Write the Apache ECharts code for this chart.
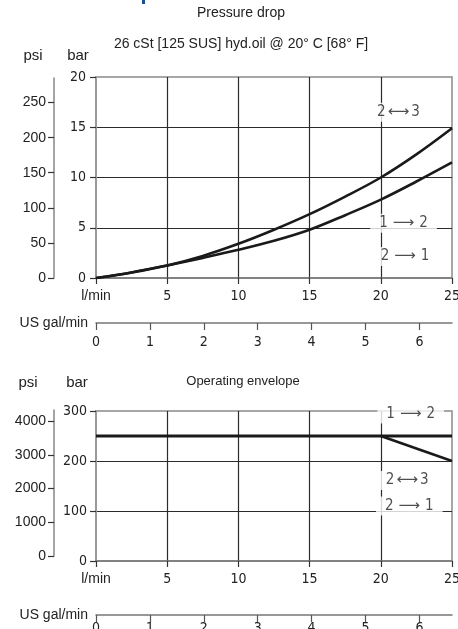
<!DOCTYPE html>
<html>
<head>
<meta charset="utf-8">
<script src="https://cdn.jsdelivr.net/npm/echarts@6/dist/echarts.min.js"></script>
<style>
html,body{margin:0;padding:0;background:#fff;}
#chart{width:458px;height:629px;}
</style>
</head>
<body>
<div id="chart"></div>
<script>
// ---- data ----
const flowLpm = [0, 2.5, 5, 7.5, 10, 12.5, 15, 17.5, 20, 22.5, 25];
const dp23 = [0, 0.55, 1.25, 2.2, 3.4, 4.8, 6.35, 8.1, 10.0, 12.3, 14.9];
const dp12 = [0, 0.55, 1.25, 2.0, 2.8, 3.7, 4.8, 6.25, 7.8, 9.6, 11.5];

const envFlowMain = [0, 25];
const envPressMain = [250, 250];
const envFlowRed = [20, 25];
const envPressRed = [250, 200];

const flowTicks = [0, 5, 10, 15, 20, 25];
const galTicks = [0, 1, 2, 3, 4, 5, 6];
const barTicksTop = [0, 5, 10, 15, 20];
const psiTicksTop = [0, 50, 100, 150, 200, 250];
const barTicksBottom = [0, 100, 200, 300];
const psiTicksBottom = [0, 1000, 2000, 3000, 4000];

const topLabelTexts = ['2 \u27F7 3', '1 \u27F6 2', '2 \u27F6 1'];
const topLabelFlow = [21.24, 21.6, 21.7];
const topLabelBar = [16.5, 5.45, 2.15];
const botLabelTexts = ['1 \u27F6 2', '2 \u27F7 3', '2 \u27F6 1'];
const botLabelFlow = [22.1, 21.85, 22.0];
const botLabelBar = [294, 161, 110];

const LPM_PER_GAL = 3.785411784;

// ---- styles ----
const NARROW = "'Liberation Sans Narrow','DejaVu Sans Condensed','Liberation Sans',sans-serif";
const REG = "'Liberation Sans',sans-serif";
const TXT = '#222';
const GRIDC = '#2b2b2b';
const FRAME = '#8a8a8a';

function mainX(grid, margin) {
  return {
    gridIndex: grid, type: 'value', min: 0, max: 25, interval: 5,
    axisLine: {show: true, onZero: false, lineStyle: {color: '#777', width: 1.5}},
    axisTick: {show: true, length: 6, customValues: flowTicks, lineStyle: {color: '#333', width: 1.2}},
    axisLabel: {margin: margin, fontFamily: NARROW, fontSize: 14, color: TXT, customValues: flowTicks,
      formatter: v => v === 0 ? '{u|l/min}' : String(v),
      rich: {u: {fontFamily: REG, fontSize: 14, color: TXT}}},
    splitLine: {show: true, showMinLine: false, showMaxLine: false, lineStyle: {color: GRIDC, width: 1.2}}
  };
}
function mainY(grid, max, interval, ticks, margin) {
  return {
    gridIndex: grid, type: 'value', min: 0, max: max, interval: interval,
    axisLine: {show: true, onZero: false, lineStyle: {color: '#9a9a9a', width: 2}},
    axisTick: {show: true, length: 6, customValues: ticks, lineStyle: {color: '#333', width: 1.2}},
    axisLabel: {margin: margin, fontFamily: NARROW, fontSize: 14, color: TXT, customValues: ticks,
      formatter: v => String(v)},
    splitLine: {show: true, showMinLine: false, showMaxLine: false, lineStyle: {color: GRIDC, width: 1.2}}
  };
}
function psiY(grid, max, interval, ticks) {
  return {
    gridIndex: grid, type: 'value', min: 0, max: max, interval: interval,
    axisLine: {show: true, onZero: false, lineStyle: {color: '#8f8f8f', width: 1.6}},
    axisTick: {show: true, length: 6, customValues: ticks, lineStyle: {color: '#333', width: 1.2}},
    axisLabel: {margin: 8, fontFamily: REG, fontSize: 14, color: TXT, customValues: ticks,
      formatter: v => String(v)},
    splitLine: {show: false}
  };
}
function galX(grid, margin) {
  return {
    gridIndex: grid, type: 'value', min: 0, max: 25 / LPM_PER_GAL,
    axisLine: {show: true, onZero: false, lineStyle: {color: '#777', width: 1.5}},
    axisTick: {show: true, length: 7, customValues: galTicks, lineStyle: {color: '#555', width: 1.2}},
    axisLabel: {margin: margin, fontFamily: NARROW, fontSize: 14, color: TXT, customValues: galTicks,
      formatter: v => String(v)},
    splitLine: {show: false},
    name: 'US gal/min', nameLocation: 'start', nameGap: 8,
    nameTextStyle: {fontFamily: REG, fontSize: 14, color: TXT}
  };
}
function hiddenX(grid) { return {gridIndex: grid, type: 'value', show: false, min: 0, max: 1}; }
function hiddenY(grid) { return {gridIndex: grid, type: 'value', show: false, min: 0, max: 1}; }

function curve(xs, ys, xi, yi, w) {
  return {
    type: 'line', xAxisIndex: xi, yAxisIndex: yi, smooth: 0.35, symbol: 'none', showSymbol: false,
    silent: true, animation: false, z: 3,
    lineStyle: {color: '#1a1a1a', width: w},
    data: xs.map((x, i) => [x, ys[i]])
  };
}
function labels(texts, xs, ys, xi, yi) {
  return {
    type: 'scatter', xAxisIndex: xi, yAxisIndex: yi, symbolSize: 2,
    itemStyle: {color: 'rgba(255,255,255,0)'},
    silent: true, animation: false, z: 5,
    label: {show: true, position: 'inside',
      formatter: p => {
        const s = p.name.split(' ');
        const style = s[1] === '\u27F6' ? 'a' : 'b';
        return '{d|' + s[0] + '}{' + style + '|' + s[1] + '}{d|' + s[2] + '}';
      },
      backgroundColor: '#fff', padding: [2, 9, 2, 9],
      rich: {
        d: {fontFamily: NARROW, fontSize: 15, color: TXT},
        a: {fontFamily: "'DejaVu Sans',sans-serif", fontSize: 15, color: TXT, padding: [0, 5, 0, 5]},
        b: {fontFamily: "'DejaVu Sans',sans-serif", fontSize: 15, color: TXT, padding: [0, 2, 0, 2]}
      }},
    labelLayout: {hideOverlap: false},
    data: texts.map((t, i) => ({name: t, value: [xs[i], ys[i]]}))
  };
}

const gridBase = {containLabel: false, outerBoundsMode: 'none'};
const chart = echarts.init(document.getElementById('chart'), null, {renderer: 'canvas'});
chart.setOption({
  animation: false,
  backgroundColor: '#fff',
  grid: [
    Object.assign({left: 96, top: 77, width: 356, height: 201, show: true, borderColor: FRAME, borderWidth: 1.5}, gridBase),
    Object.assign({left: 54, top: 78, width: 1, height: 200}, gridBase),
    Object.assign({left: 96, top: 322, width: 356, height: 1}, gridBase),
    Object.assign({left: 96, top: 411, width: 356, height: 150, show: true, borderColor: FRAME, borderWidth: 1.5}, gridBase),
    Object.assign({left: 54, top: 410, width: 1, height: 146}, gridBase),
    Object.assign({left: 96, top: 614, width: 356, height: 1}, gridBase)
  ],
  xAxis: [mainX(0, 11), hiddenX(1), galX(2, 12), mainX(3, 11), hiddenX(4), galX(5, 6)],
  yAxis: [
    mainY(0, 20, 5, barTicksTop, 10),
    psiY(1, 285, 50, psiTicksTop),
    hiddenY(2),
    mainY(3, 300, 100, barTicksBottom, 9),
    psiY(4, 4326, 1000, psiTicksBottom),
    hiddenY(5)
  ],
  series: [
    curve(flowLpm, dp23, 0, 0, 2.6),
    curve(flowLpm, dp12, 0, 0, 2.6),
    labels(topLabelTexts, topLabelFlow, topLabelBar, 0, 0),
    curve(envFlowMain, envPressMain, 3, 3, 3),
    curve(envFlowRed, envPressRed, 3, 3, 2.6),
    labels(botLabelTexts, botLabelFlow, botLabelBar, 3, 3)
  ],
  graphic: [
    {type: 'rect', shape: {x: 142, y: 0, width: 3, height: 4}, style: {fill: '#1f4f93'}},
    {type: 'text', x: 241, y: 13, style: {text: 'Pressure drop', font: "14px 'Liberation Sans'", fill: TXT, textAlign: 'center', textVerticalAlign: 'middle'}},
    {type: 'text', x: 241, y: 44, style: {text: '26 cSt [125 SUS] hyd.oil @ 20\u00B0 C [68\u00B0 F]', font: "14px 'Liberation Sans'", fill: TXT, textAlign: 'center', textVerticalAlign: 'middle'}},
    {type: 'text', x: 33, y: 56, style: {text: 'psi', font: "15px 'Liberation Sans'", fill: TXT, textAlign: 'center', textVerticalAlign: 'middle'}},
    {type: 'text', x: 78, y: 56, style: {text: 'bar', font: "15px 'Liberation Sans'", fill: TXT, textAlign: 'center', textVerticalAlign: 'middle'}},
    {type: 'text', x: 243, y: 381, style: {text: 'Operating envelope', font: "13px 'Liberation Sans'", fill: TXT, textAlign: 'center', textVerticalAlign: 'middle'}},
    {type: 'text', x: 28, y: 383, style: {text: 'psi', font: "15px 'Liberation Sans'", fill: TXT, textAlign: 'center', textVerticalAlign: 'middle'}},
    {type: 'text', x: 77, y: 383, style: {text: 'bar', font: "15px 'Liberation Sans'", fill: TXT, textAlign: 'center', textVerticalAlign: 'middle'}}
  ]
});
</script>
</body>
</html>
